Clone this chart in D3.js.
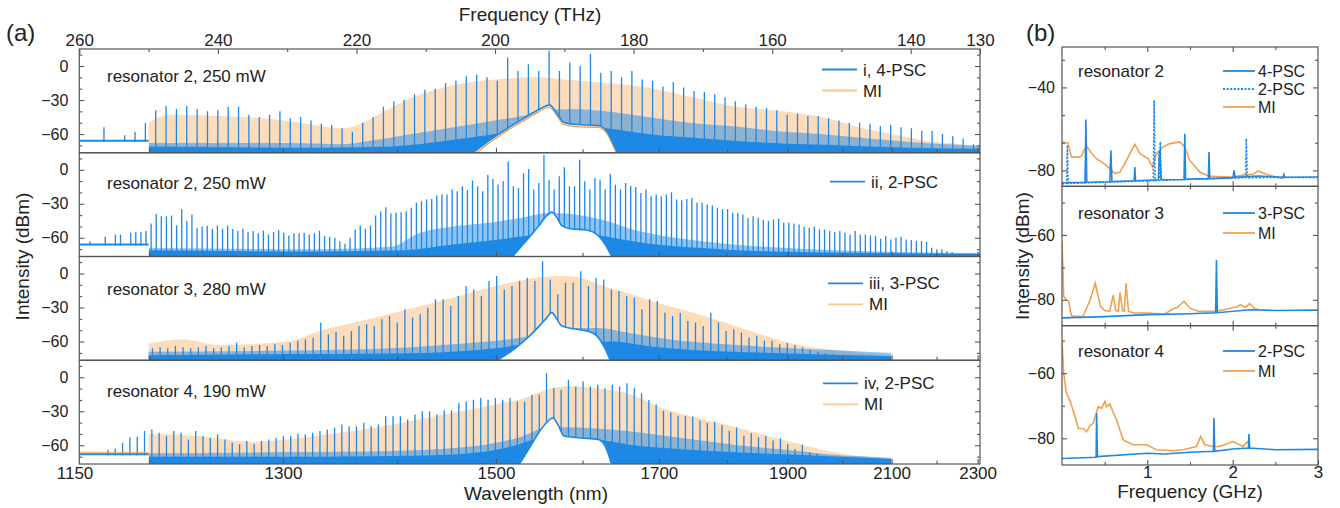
<!DOCTYPE html>
<html>
<head>
<meta charset="utf-8">
<title>Soliton crystal spectra</title>
<script src="https://cdn.jsdelivr.net/npm/d3@7"></script>
<style>
  body { margin: 0; background: #fff; }
  svg { display: block; font-family: "Liberation Sans", Arial, sans-serif; }
</style>
</head>
<body>
<svg id="chart" width="1340" height="508"></svg>
<script>
const C = 299792.458; // nm * THz

// ---- panel (a) axes ----
const freqMajor = [260, 240, 220, 200, 180, 160, 140, 130];
const freqMinor = [250, 230, 210, 190, 170, 150];
const wlMajor = [1150, 1300, 1500, 1700, 1900, 2100, 2300];
const wlMinor = [1200, 1400, 1600, 1800, 2000, 2200];
const dbMajor = [0, -30, -60];
const dbMinor = [10, -10, -20, -40, -50, -70];

// ---- (a)-i resonator 2, 4-PSC + MI ----
const p1Range = [256.44, 130.94]; // THz of first / last comb line
const p1Lines = [-54, null, -61, -58, -50,
  -39, -35, -38, -35, -38, -40, -39, -36, -36, -43,
  -45, -43, -40, -46, -45, -48, -51, -52, -55, -58,
  -50, -45, -36, -31, -30, -25, -21, -20, -15, -13,
  -9, -7.5, -10, -13, 7.5, -4.5, 1.5, -4.5, 13.5,
  -4.5, 3, 0, 10.5, -6, -4.5, -10, -4.5, -12, -13,
  -18, -14, -19, -22, -23, -25, -27.5, -31, -34, -36,
  -37, -39, -43, -42, -44, -44, -46, -48, -50, -50,
  -51, -53, -52, -54, -55, -57, -57, -60, -62, -64, -69];
const p1Mi = [[250, -50], [247, -43], [240, -44], [232, -47], [226, -52], [222, -55], [219, -50], [216, -40], [212, -28], [206, -17], [200, -12], [194, -10], [190, -12], [184, -15], [178, -19], [172, -27], [166, -35], [157, -41], [152, -46], [147, -55], [142.6, -60], [137.8, -66], [133, -69], [130, -71]];
const p1Sub = [[250, -68], [230, -68], [222, -69], [218, -66], [212, -60], [206, -54], [200, -48], [196, -44], [193, -40], [189, -38], [184, -40], [178, -45], [172, -50], [166, -53], [160, -57], [153, -60], [146, -64], [140, -67], [135, -69], [130, -70]];
const p1Floor = [[250, -71], [225, -72], [215, -71], [207, -66], [200, -60], [195, -55], [190, -52], [184, -55], [178, -60], [170, -64], [160, -68], [150, -70], [140, -72], [130, -73]];
const p1Hump = [[203.2, -76.5], [199.5, -60], [196.35, -48], [193.85, -39], [192.1, -34.5], [191.04, -42], [190.1, -49.5], [188.2, -51.6], [185.1, -52.5], [183.8, -58], [182.9, -69], [182.3, -76.5]];
const p1MiHump = [[202.8, -77], [199.5, -62], [196.35, -50], [193.85, -41], [192.1, -36.5], [191.04, -44], [190.1, -51.5], [188.2, -53.5], [185.1, -54], [183.8, -60], [182.9, -71], [182.5, -77]];
const p1Noise = [-66, null]; // blue, orange level below 250 THz

// ---- (a)-ii resonator 2, 2-PSC ----
const p2Range = [258.47, 134.03];
const p2Lines = [-63, null, null, -59, null, -57, -57, null, -55.6, -55, -55, -54,
  -47.4, -38.9, -40.9, -40.9, -40.4, -49, -34.5, -45.3, -39.5, -51.2,
  -50, -49.4, -52.3, -49.1, -52, -49.1, -52.3, -53.7, -52, -55,
  -54.1, -56.1, -53.7, -57, -55, -53.4, -55.6, -58, -56.1, -56.1,
  -55.6, -57, -56, -53.8, -58.5, -59, -60, -63, -65.2, -60,
  -52.6, -49.1, -52, -49.1, -40.4, -36.8, -33, -38.6, -38, -37.4,
  -36.5, -33.6, -29.2, -27.8, -26.3, -25.7, -22.5, -21.9, -21.9, -17.5,
  -19, -14.6, -18, -9.4, -14.6, -19, -4.4, -8.2,
  -13, -10, 7.3, -14.6, -16, -3, 0.6, -17.5, -11.7, 13,
  -8.8, -17.5, -5.8, 2.3, -14.6, -14.6, 8.8, -10.2, -17.5, -7.3,
  -8.8, -17.5, -3.5, -13.2, -17.5, -11.7, -14, -15.2, -20.5, -17.5,
  -23.4, -21.9, -23.4, -21.9, -19.9, -26.3, -26.9, -25.7, -24.9, -29.2,
  -29.2, -30.7, -31.6, -33.6, -35.1, -34.5, -38, -38, -39.5, -42.4,
  -41, -42.4, -44.4, -45.3, -43.9, -43.3, -46.8, -46.8, -47.4, -48.2,
  -50.3, -51.2, -50.3, -52.6, -52.6, -54, -55, -54, -55.6, -57,
  -54, -57, -57, -58, -58.5, -60.8, -58.5, -61.4, -60, -59,
  -61.4, -62, -62.9, -62.9, -63.7, -68.7, -70, -70, -71.6, -72.5];
const p2Sub = [[250, -69], [225, -70], [215, -68], [211, -56], [206, -50], [200, -46], [196, -42], [192, -38], [188, -40], [184, -45], [180, -53], [175, -59], [170, -63], [161, -68], [151, -71], [142, -72.5], [130, -73.5]];
const p2Floor = [[250, -71], [225, -72], [213, -71], [206, -66], [200, -62], [195, -58], [188, -56], [183, -60], [178, -65], [170, -69], [160, -72], [130, -74]];
const p2Hump = [[197.4, -76], [195.4, -62], [193.5, -48], [192.55, -40.5], [191.8, -37.4], [191.1, -42], [190.4, -49], [189.2, -52], [186.8, -53.2], [185.3, -57], [184.1, -66], [183.2, -76]];
const p2Noise = [-66, null];

// ---- (a)-iii resonator 3, 3-PSC + MI ----
const p3Range = [249.44, 143.46];
const p3Lines = [-66, -65, -66, -64, -65, -66, -65, -64, -66, -65, -64, -61, -65, -64, -63, -64, -62, -63, -61,
  -59.4, -58, -56.5, -43.3, -53.5, -51.5, -55, -50.6, -46.2, -44.7, -46.2, -40.4, -37.4, -43.3,
  -31.6, -38.9, -36, -30.1, -22.8, -22.8, -28.7, -19.9, -11.1, -14, -19.9, -6.7, -2.3,
  -14, -11.1, -6.7, -3.8, -6.7, 10.8,
  -5.3, -18.4, -8.2, -8.2, 2, -11.1, -3.8, -5.3, -14, -15.5, -19.9, -21.3, -31.6, -22.8, -24.3,
  -34.5, -37.4, -34.5, -41.8, -43.3, -46.2, -34.5, -43.3, -50.6, -49.1, -52, -56.5, -55, -59.4, -59.4, -62.3,
  -61, -63, -65, -67, -69, -70, -71, -72, -72, -73, -73, -73, -74, -74];
const p3Mi = [[250, -62], [245, -58], [240, -63], [230, -60], [225, -50], [218, -40], [209, -26], [203, -16], [197, -7], [193, -3], [190, -2], [187.6, -4], [184, -12], [181, -17], [176, -27], [170, -37], [165, -47], [161, -55], [157, -62], [153, -66], [149, -69], [142.8, -72]];
const p3Sub = [[250, -69], [230, -68], [215, -66], [205, -62], [198, -58], [194, -54], [190, -48], [185, -48], [181, -52], [175, -58], [168, -62], [160, -65], [150, -68], [142.8, -70]];
const p3Floor = [[250, -72], [230, -71], [210, -70], [200, -66], [195, -62], [183, -60], [178, -64], [170, -68], [160, -70], [142.8, -73]];
const p3Hump = [[199.5, -76], [197.1, -66], [195, -55], [192.8, -41], [191.8, -34.5], [191.1, -40], [190.4, -46], [188.5, -49], [186.8, -50.6], [185.3, -55], [184.3, -64], [183.4, -76]];
const p3Noise = [null, null];

// ---- (a)-iv resonator 4, 2-PSC + MI ----
const p4Range = [255.86, 142.98];
const p4Lines = [-64, -63, -58, -53, -52.4, -47.5,
  -46, -48.9, -51.8, -47.5, -48.9, -54.8, -47.5, -51.8, -53.3, -50.4,
  -54.8, -57.7, -59.1, -56.2, -59.1, -56.2, -54.8, -53.3, -51.8, -51.8,
  -49.8, -50.4, -48.9, -47.5, -46, -44.6, -41.7, -43.1, -43.1, -40.2,
  -43.1, -41.7, -34.4, -34.4, -34.4, -37.3, -32.9, -30, -30, -32.9,
  -29.1, -29.1, -22.7, -21.3, -19.8, -18.3, -19.8, -18.3, -19.8, -18.3,
  -21.3, -21.3, -15.4, -15.4, 3.5,
  -9.6, -11.1, -2.3, -8.2, -3.8, -8.2, -6.7, -9.6, -6.7, -8.2, -5.2, -9.6, -14, -20, -24,
  -29.5, -31, -33.9, -33.9, -34.5, -38.3, -40.4, -39.2, -42.1, -47.1, -44.2, -51.5, -49.1,
  -52.9, -51.5, -55.8, -53.8, -58.8, -63.2, -59.6, -66.1, -67.5, -69, -70.5, -71.9, -72.5,
  -73, -73, -73.5, -73.5, -74, -74];
const p4Mi = [[250, -50], [245, -51], [240, -54], [235, -57], [230, -55], [225, -51], [220, -47], [215, -42], [210, -36], [205, -30], [200, -24], [196, -19], [192, -10], [189, -8], [185, -10], [180, -16], [176, -27], [172, -34], [168, -40], [164, -46], [160, -53], [156, -59], [152, -65], [148, -69], [142.8, -72]];
const p4Sub = [[250, -67], [230, -66], [215, -65], [205, -62], [200, -58], [196, -52], [193, -45], [190, -44], [186, -45], [180, -48], [175, -52], [170, -56], [165, -60], [158, -64], [152, -68], [142.8, -71]];
const p4Floor = [[250, -70], [225, -70], [210, -69], [202, -66], [197, -60], [194, -55], [186, -55], [180, -60], [172, -64], [162, -67], [150, -70], [142.8, -72]];
const p4Hump = [[196.4, -76], [195, -62], [193.6, -48], [192.4, -39], [191.66, -35.8], [190.9, -42], [190.05, -51.8], [187.7, -53.5], [185.1, -54.8], [184, -62], [183.2, -76]];
const p4Noise = [-68, -66.5];

// ---- panel (b): RF beat notes ----
const gMajor = [1, 2];
const gMinor = [0.5, 1.5, 2.5];
const gLabels = [1, 2, 3];
const b1Psc4 = [[0, -86], [0.27, -85.8], [0.28, -55.5], [0.29, -85.7], [0.56, -85.5], [0.573, -70.3], [0.585, -85.4], [0.845, -85], [0.854, -78.4], [0.862, -85], [1.13, -84.5], [1.14, -71], [1.146, -70.3], [1.155, -78], [1.165, -84.5], [1.43, -84.4], [1.439, -62.3], [1.448, -84.3], [1.715, -84], [1.723, -71.2], [1.731, -84], [2.005, -83.5], [2.016, -80], [2.028, -83.4], [2.3, -82.8], [2.59, -83.3], [2.6, -82], [2.61, -83.3], [3, -83.2]];
const b1Psc2 = [[0, -86.5], [0.055, -86.3], [0.063, -67.9], [0.071, -86.3], [1.07, -85], [1.08, -46.1], [1.09, -85], [1.145, -84.8], [1.152, -66.3], [1.16, -84.8], [2.15, -83.5], [2.16, -64.7], [2.17, -83.5], [3, -83.4]];
const b1Mi = [[0, -66.5], [0.07, -66.8], [0.1, -72], [0.113, -73.6], [0.2, -73.6], [0.23, -73], [0.26, -70], [0.296, -68.7], [0.35, -72], [0.405, -74.4], [0.5, -77], [0.561, -79.2], [0.62, -81.6], [0.678, -80.8], [0.756, -75.2], [0.854, -67.4], [0.913, -71.9], [1.01, -74.4], [1.06, -78.4], [1.107, -71.9], [1.185, -68.7], [1.263, -67.1], [1.38, -66.3], [1.44, -68.7], [1.497, -75.2], [1.614, -80.8], [1.731, -82.9], [2.004, -83.2], [2.121, -82.3], [2.238, -81.9], [2.296, -80.3], [2.393, -81.9], [2.51, -83.2], [2.6, -84]];
const b2Psc3 = [[0, -85.6], [0.5, -85.2], [1, -84.6], [1.5, -84.3], [1.8, -84], [1.81, -67.7], [1.82, -84], [2.2, -83.1], [2.5, -83.3], [3, -83.2]];
const b2Mi = [[0, -62], [0.01, -70], [0.02, -79], [0.05, -80], [0.08, -80.5], [0.1, -84], [0.12, -85.1], [0.25, -85], [0.33, -80], [0.39, -74.9], [0.45, -82], [0.5, -83.3], [0.56, -83.6], [0.6, -78.6], [0.63, -83.3], [0.66, -83.6], [0.68, -77.7], [0.71, -83.3], [0.73, -83.5], [0.75, -74.9], [0.78, -83.6], [0.85, -84.1], [1.0, -84.1], [1.2, -84.5], [1.3, -82.8], [1.35, -82.4], [1.43, -80.5], [1.5, -82.6], [1.6, -83.6], [1.8, -83.6], [1.95, -82.8], [2.05, -82.2], [2.09, -81.5], [2.15, -82.3], [2.2, -81.2], [2.25, -82.6], [2.3, -83]];
const b3Psc2 = [[0, -86.2], [0.4, -85.8], [0.406, -72.3], [0.415, -85.6], [1, -84.6], [1.2, -84.8], [1.5, -84.3], [1.775, -84], [1.78, -73.8], [1.79, -84], [2, -83.3], [2.185, -83], [2.19, -78.7], [2.2, -83], [2.5, -83.5], [3, -83.4]];
const b3Mi = [[0, -50], [0.02, -60], [0.05, -66], [0.094, -68.5], [0.152, -73.3], [0.191, -77], [0.25, -77], [0.288, -78], [0.33, -76], [0.366, -75.4], [0.425, -70.3], [0.464, -70.8], [0.503, -68.7], [0.522, -70.3], [0.561, -69.5], [0.6, -72], [0.639, -74.3], [0.717, -80.5], [0.834, -82], [0.99, -82], [1.107, -83.5], [1.3, -83.8], [1.419, -83.5], [1.575, -82.5], [1.626, -79.4], [1.673, -82], [1.77, -82.5], [1.848, -82.5], [2.004, -81], [2.121, -82.5], [2.179, -81], [2.2, -82]];

// ---------------- drawing ----------------
const blue = '#1e88e5', peach = '#fddcbc', peachLine = '#f9c896', orange = '#f3a04e', ink = '#222', frame = '#555';
const font = '"Liberation Sans", Arial, sans-serif';
const svg = d3.select('#chart');

function styleAxis(g, size) {
  g.attr('font-size', size).attr('font-family', font).attr('color', ink);
  g.select('.domain').remove();
  g.selectAll('.tick line').attr('stroke', frame).attr('stroke-width', 1.1);
}

// ===== panel (a) =====
const A = { left: 79.3, right: 980, top: 49, bottom: 464 };
const rowH = (A.bottom - A.top) / 4;
const x = d3.scaleLinear().domain([260, 130]).range([A.left, A.right]);

const panelsA = [
  { lines: p1Lines, range: p1Range, mi: p1Mi, sub: p1Sub, floor: p1Floor, hump: p1Hump, miHump: p1MiHump, noise: p1Noise,
    title: 'resonator 2, 250 mW', legend: ['i, 4-PSC', 'MI'], lx: 822, ly: 69.5, titleY: 82 },
  { lines: p2Lines, range: p2Range, mi: null, sub: p2Sub, floor: p2Floor, hump: p2Hump, miHump: null, noise: p2Noise,
    title: 'resonator 2, 250 mW', legend: ['ii, 2-PSC'], lx: 830, ly: 181.7, titleY: 189 },
  { lines: p3Lines, range: p3Range, mi: p3Mi, sub: p3Sub, floor: p3Floor, hump: p3Hump, miHump: null, noise: p3Noise,
    title: 'resonator 3, 280 mW', legend: ['iii, 3-PSC', 'MI'], lx: 828, ly: 283.3, titleY: 295 },
  { lines: p4Lines, range: p4Range, mi: p4Mi, sub: p4Sub, floor: p4Floor, hump: p4Hump, miHump: null, noise: p4Noise,
    title: 'resonator 4, 190 mW', legend: ['iv, 2-PSC', 'MI'], lx: 823, ly: 383.3, titleY: 397 }
];

panelsA.forEach((p, i) => {
  const top = A.top + i * rowH, bot = top + rowH;
  const y = d3.scaleLinear().domain([-76.5, 15]).range([bot, top]);
  const clipId = 'clipA' + i;
  svg.append('clipPath').attr('id', clipId).append('rect')
    .attr('x', A.left).attr('y', top).attr('width', A.right - A.left).attr('height', rowH);
  const plot = svg.append('g').attr('clip-path', `url(#${clipId})`);
  const area = d3.area().x(d => x(d[0])).y0(bot).y1(d => y(d[1])).curve(d3.curveMonotoneX);
  const line = d3.line().x(d => x(d[0])).y(d => y(d[1])).curve(d3.curveMonotoneX);

  if (p.mi) plot.append('path').attr('d', area(p.mi)).attr('fill', peach);
  plot.append('path').attr('d', area(p.sub)).attr('fill', blue).attr('opacity', 0.5);
  plot.append('path').attr('d', area(p.floor)).attr('fill', blue);

  const mode = d3.scaleLinear().domain([0, p.lines.length - 1]).range(p.range);
  const comb = p.lines.map((v, k) => [mode(k), v]).filter(d => d[1] !== null);
  plot.append('g').selectAll('line').data(comb).join('line')
    .attr('x1', d => x(d[0])).attr('x2', d => x(d[0]))
    .attr('y1', bot).attr('y2', d => y(d[1]))
    .attr('stroke', blue).attr('stroke-width', 1.3);

  // pump / ASE hump: nothing below it
  plot.append('path').attr('d', area(p.hump)).attr('fill', '#fff');
  if (p.miHump) plot.append('path').attr('d', line(p.miHump)).attr('fill', 'none').attr('stroke', orange).attr('stroke-width', 1.4);
  plot.append('path').attr('d', line(p.hump)).attr('fill', 'none').attr('stroke', blue).attr('stroke-width', 1.6);

  // short-wavelength OSA segment (above 250 THz)
  if (p.noise[0] !== null) {
    plot.append('rect').attr('x', x(260)).attr('y', y(p.noise[0]) + 1)
      .attr('width', x(250) - x(260)).attr('height', bot - y(p.noise[0])).attr('fill', '#fff');
    if (p.noise[1] !== null)
      plot.append('line').attr('x1', x(260)).attr('x2', x(250)).attr('y1', y(p.noise[1])).attr('y2', y(p.noise[1]))
        .attr('stroke', orange).attr('stroke-width', 1.6).attr('opacity', 0.7);
    plot.append('line').attr('x1', x(260)).attr('x2', x(250)).attr('y1', y(p.noise[0])).attr('y2', y(p.noise[0]))
      .attr('stroke', blue).attr('stroke-width', 2);
  }

  // y axes
  svg.append('g').attr('transform', `translate(${A.left},0)`)
    .call(d3.axisLeft(y).tickValues(dbMajor).tickSize(-5).tickPadding(11))
    .call(g => styleAxis(g, 16));
  svg.append('g').attr('transform', `translate(${A.left},0)`)
    .call(d3.axisLeft(y).tickValues(dbMinor).tickSize(-3).tickFormat(''))
    .call(g => styleAxis(g, 16));
  svg.append('g').attr('transform', `translate(${A.right},0)`)
    .call(d3.axisRight(y).tickValues(dbMajor).tickSize(-5).tickFormat(''))
    .call(g => styleAxis(g, 16));
  svg.append('g').attr('transform', `translate(${A.right},0)`)
    .call(d3.axisRight(y).tickValues(dbMinor).tickSize(-3).tickFormat(''))
    .call(g => styleAxis(g, 16));

  // wavelength ticks on each panel bottom
  const last = i === panelsA.length - 1;
  svg.append('g').attr('transform', `translate(0,${bot})`)
    .call(d3.axisBottom(x).tickValues(wlMajor.map(l => C / l)).tickSize(-5).tickPadding(3)
      .tickFormat(last ? (f => Math.round(C / f)) : ''))
    .call(g => styleAxis(g, 17))
    .call(g => g.selectAll('.tick').filter(d => d > 260).select('line').remove());
  svg.append('g').attr('transform', `translate(0,${bot})`)
    .call(d3.axisBottom(x).tickValues(wlMinor.map(l => C / l)).tickSize(-3.5).tickFormat(''))
    .call(g => styleAxis(g, 17));

  // labels
  svg.append('text').attr('x', 107).attr('y', p.titleY).attr('font-size', 17).attr('fill', ink).text(p.title);
  p.legend.forEach((t, r) => {
    const ly = p.ly + r * 21;
    svg.append('line').attr('x1', p.lx).attr('x2', p.lx + 35).attr('y1', ly).attr('y2', ly)
      .attr('stroke', r === 0 ? blue : peachLine).attr('stroke-width', 1.8);
    svg.append('text').attr('x', p.lx + 41).attr('y', ly + 6).attr('font-size', 17).attr('fill', ink).text(t);
  });

  svg.append('rect').attr('x', A.left).attr('y', top).attr('width', A.right - A.left).attr('height', rowH)
    .attr('fill', 'none').attr('stroke', frame).attr('stroke-width', 1.2);
});

// top frequency axis
svg.append('g').attr('transform', `translate(0,${A.top})`)
  .call(d3.axisTop(x).tickValues(freqMajor).tickSize(-5).tickPadding(3))
  .call(g => styleAxis(g, 17));
svg.append('g').attr('transform', `translate(0,${A.top})`)
  .call(d3.axisTop(x).tickValues(freqMinor).tickSize(-3).tickFormat(''))
  .call(g => styleAxis(g, 17));

svg.append('text').attr('x', 530).attr('y', 21).attr('text-anchor', 'middle').attr('font-size', 19).attr('fill', ink).text('Frequency (THz)');
svg.append('text').attr('x', 536).attr('y', 500).attr('text-anchor', 'middle').attr('font-size', 19).attr('fill', ink).text('Wavelength (nm)');
svg.append('text').attr('transform', `translate(29,${(A.top + A.bottom) / 2}) rotate(-90)`).attr('text-anchor', 'middle')
  .attr('font-size', 19).attr('fill', ink).text('Intensity (dBm)');
svg.append('text').attr('x', 6).attr('y', 41).attr('font-size', 24).attr('fill', ink).text('(a)');

// ===== panel (b) =====
const B = { left: 1062, right: 1318, top: 47, bottom: 465 };
const bH = (B.bottom - B.top) / 3;
const bx = d3.scaleLinear().domain([0, 3]).range([B.left, B.right]);

const panelsB = [
  { domain: [-87.7, -20.5], major: [-40, -80], minor: [-26.67, -53.33, -66.67], title: 'resonator 2',
    series: [[b1Mi, orange, null], [b1Psc2, blue, '2,1.6'], [b1Psc4, blue, null]],
    legend: [['4-PSC', blue, null], ['2-PSC', blue, '2,1.6'], ['MI', orange, null]], ly: 71, gap: 18 },
  { domain: [-88, -45], major: [-60, -80], minor: [-50, -70], title: 'resonator 3',
    series: [[b2Mi, orange, null], [b2Psc3, blue, null]],
    legend: [['3-PSC', blue, null], ['MI', orange, null]], ly: 213, gap: 20 },
  { domain: [-88.2, -45.4], major: [-60, -80], minor: [-50, -70], title: 'resonator 4',
    series: [[b3Mi, orange, null], [b3Psc2, blue, null]],
    legend: [['2-PSC', blue, null], ['MI', orange, null]], ly: 351, gap: 20 }
];

panelsB.forEach((p, i) => {
  const top = B.top + i * bH, bot = top + bH;
  const y = d3.scaleLinear().domain(p.domain).range([bot, top]);
  const clipId = 'clipB' + i;
  svg.append('clipPath').attr('id', clipId).append('rect')
    .attr('x', B.left).attr('y', top).attr('width', B.right - B.left).attr('height', bH);
  const plot = svg.append('g').attr('clip-path', `url(#${clipId})`);
  const line = d3.line().x(d => bx(d[0])).y(d => y(d[1]));
  p.series.forEach(([data, col, dash]) => {
    plot.append('path').attr('d', line(data)).attr('fill', 'none').attr('stroke', col)
      .attr('stroke-width', 1.6).attr('stroke-dasharray', dash);
  });

  svg.append('g').attr('transform', `translate(${B.left},0)`)
    .call(d3.axisLeft(y).tickValues(p.major).tickSize(-5).tickPadding(7)).call(g => styleAxis(g, 16));
  svg.append('g').attr('transform', `translate(${B.left},0)`)
    .call(d3.axisLeft(y).tickValues(p.minor).tickSize(-3).tickFormat('')).call(g => styleAxis(g, 16));
  svg.append('g').attr('transform', `translate(${B.right},0)`)
    .call(d3.axisRight(y).tickValues(p.major).tickSize(-5).tickFormat('')).call(g => styleAxis(g, 16));
  svg.append('g').attr('transform', `translate(${B.right},0)`)
    .call(d3.axisRight(y).tickValues(p.minor).tickSize(-3).tickFormat('')).call(g => styleAxis(g, 16));
  svg.append('g').attr('transform', `translate(0,${top})`)
    .call(d3.axisTop(bx).tickValues(gMajor).tickSize(-5).tickFormat('')).call(g => styleAxis(g, 16));
  svg.append('g').attr('transform', `translate(0,${top})`)
    .call(d3.axisTop(bx).tickValues(gMinor).tickSize(-3).tickFormat('')).call(g => styleAxis(g, 16));
  const last = i === panelsB.length - 1;
  svg.append('g').attr('transform', `translate(0,${bot})`)
    .call(d3.axisBottom(bx).tickValues(last ? gLabels : gMajor).tickSize(-5).tickPadding(1).tickFormat(last ? d3.format('d') : ''))
    .call(g => styleAxis(g, 17));
  svg.append('g').attr('transform', `translate(0,${bot})`)
    .call(d3.axisBottom(bx).tickValues(gMinor).tickSize(-3).tickFormat('')).call(g => styleAxis(g, 16));

  svg.append('text').attr('x', 1078).attr('y', p.ly + 6).attr('font-size', 17).attr('fill', ink).text(p.title);
  p.legend.forEach(([t, col, dash], r) => {
    const ly = p.ly + r * p.gap;
    svg.append('line').attr('x1', 1223).attr('x2', 1255).attr('y1', ly).attr('y2', ly)
      .attr('stroke', col).attr('stroke-width', 1.8).attr('stroke-dasharray', dash);
    svg.append('text').attr('x', 1258).attr('y', ly + 6).attr('font-size', 16).attr('fill', ink).text(t);
  });

  svg.append('rect').attr('x', B.left).attr('y', top).attr('width', B.right - B.left).attr('height', bH)
    .attr('fill', 'none').attr('stroke', frame).attr('stroke-width', 1.2);
});

svg.append('text').attr('x', 1190).attr('y', 498).attr('text-anchor', 'middle').attr('font-size', 19).attr('fill', ink).text('Frequency (GHz)');
svg.append('text').attr('transform', `translate(1029,${(B.top + B.bottom) / 2}) rotate(-90)`).attr('text-anchor', 'middle')
  .attr('font-size', 19).attr('fill', ink).text('Intensity (dBm)');
svg.append('text').attr('x', 1026).attr('y', 41).attr('font-size', 24).attr('fill', ink).text('(b)');
</script>
</body>
</html>
